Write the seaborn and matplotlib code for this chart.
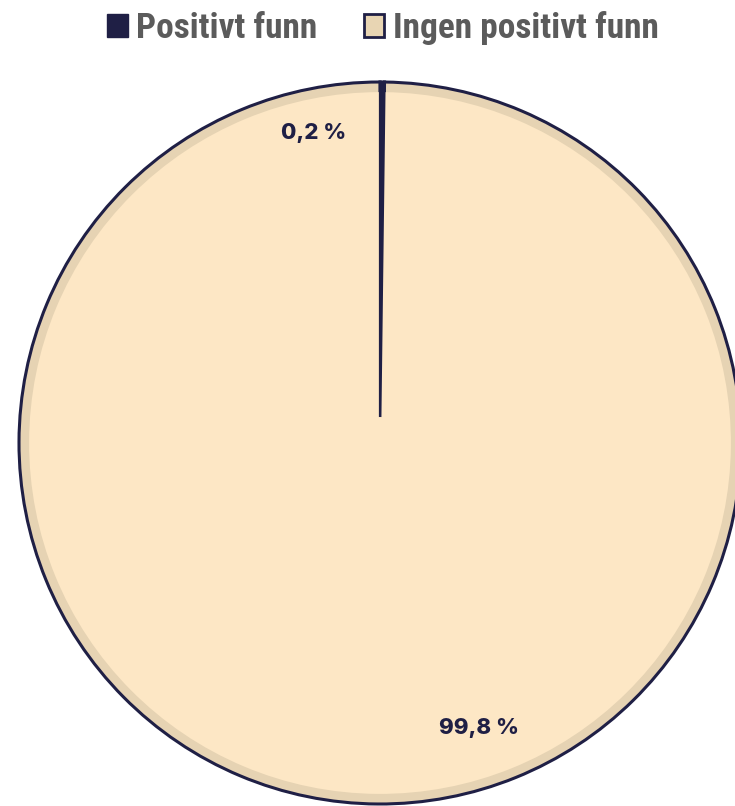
import matplotlib
matplotlib.use("Agg")
import matplotlib.pyplot as plt
import seaborn as sns
from matplotlib.patches import Patch
from matplotlib.font_manager import FontProperties

# ---- data ----
categories = ["Positivt funn", "Ingen positivt funn"]
values = [0.2, 99.8]
value_labels = ["0,2 %", "99,8 %"]

# ---- style ----
sns.set_theme(style="white")
NAVY = "#1f1f45"
RING = "#e6d3b3"
FILL = "#fde7c5"
LEGEND_BEIGE = "#e8d5b3"
TEXT_GREY = "#5b5b5b"

W, H = 735, 806
fig = plt.figure(figsize=(W / 100, H / 100), dpi=100)
ax = fig.add_axes([0, 0, 1, 1])

# outer pie: ring colour + dark outline
ax.pie(values, colors=[NAVY, RING], startangle=90, counterclock=False,
       radius=1.0, wedgeprops=dict(edgecolor=NAVY, linewidth=2.2))
# inner lighter fill
ax.pie(values, colors=[NAVY, FILL], startangle=90, counterclock=False,
       radius=0.972, wedgeprops=dict(linewidth=0))
# the thin slice on top with its outline
top_wedges, _ = ax.pie(values, colors=[NAVY, FILL], startangle=90, counterclock=False,
                       radius=1.0, wedgeprops=dict(edgecolor=NAVY, linewidth=1.6))
top_wedges[1].set_visible(False)
# small centre fill (the thin slice stops short of the centre)
ax.pie([sum(values)], colors=[FILL], radius=0.072, wedgeprops=dict(linewidth=0))

# layout: centre at pixel (380, 443), radius 361 px
cx, cy, r = 380, 443, 361
ax.set_xlim(-cx / r, (W - cx) / r)
ax.set_ylim(-(H - cy) / r, cy / r)
ax.set_aspect("auto")
ax.axis("off")

lab_font = dict(family=["Inter", "DejaVu Sans"], weight=800, size=16)
label_pos = [((314 - cx) / r, (cy - 133) / r), ((479 - cx) / r, (cy - 728) / r)]
for (x, y), t in zip(label_pos, value_labels):
    ax.text(x, y, t, ha="center", va="center", color=NAVY, **lab_font)

handles = [Patch(facecolor=NAVY, edgecolor=NAVY, linewidth=1),
           Patch(facecolor=LEGEND_BEIGE, edgecolor=NAVY, linewidth=2)]
leg_font = FontProperties(family=["Liberation Sans Narrow", "Roboto Condensed", "Roboto"],
                          weight="bold", size=25.5)
fig.legend(handles=handles, labels=categories, loc="center",
           bbox_to_anchor=(383 / W, 1 - 28 / H), ncol=2, frameon=False,
           prop=leg_font, handlelength=0.58, handleheight=0.58,
           handletextpad=0.25, columnspacing=1.3, labelcolor=TEXT_GREY)

fig.savefig("out.png", dpi=100, facecolor="white")
